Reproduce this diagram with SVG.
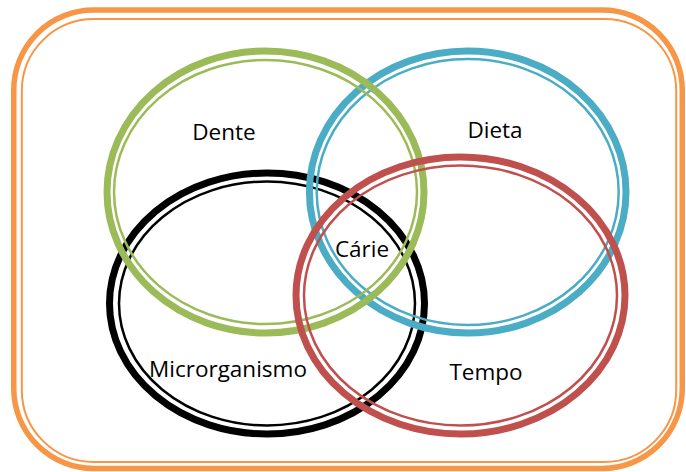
<svg xmlns="http://www.w3.org/2000/svg" width="686" height="472" viewBox="0 0 686 472">
<style>
.thick{fill:none;stroke-width:7}
.thin{fill:none;stroke-width:2.5}
.lbl{font-family:"Open Sans","Liberation Sans",Arial,sans-serif;font-size:22.5px;fill:#000;text-anchor:middle}
</style>
<rect width="686" height="472" fill="#fff"/>
<g id="frame">
<rect x="13.75" y="10" width="668.5" height="458.5" rx="80" ry="80" fill="none" stroke="#F79646" stroke-width="5.5"/>
<rect x="21.8" y="19" width="654.4" height="443" rx="72" ry="72" fill="none" stroke="#F79646" stroke-width="2"/>
</g>
<g id="microrganismo">
<ellipse class="thick" cx="267" cy="303.5" rx="157.5" ry="130.5" stroke="#000"/>
<ellipse class="thin" cx="267" cy="303.5" rx="148" ry="122" stroke="#000"/>
<text class="lbl" x="228" y="377">Microrganismo</text>
</g>
<g id="dieta">
<ellipse class="thick" cx="467.7" cy="192" rx="158.3" ry="141" stroke="#4BACC6"/>
<ellipse class="thin" cx="467.7" cy="192" rx="151" ry="133" stroke="#4BACC6"/>
<text class="lbl" x="495" y="138">Dieta</text>
</g>
<g id="dente">
<ellipse class="thick" cx="265.5" cy="192" rx="158.5" ry="141" stroke="#9BBB59"/>
<ellipse class="thin" cx="265.5" cy="192" rx="151.5" ry="132" stroke="#9BBB59"/>
<text class="lbl" x="224" y="140">Dente</text>
</g>
<g id="tempo">
<ellipse class="thick" cx="460.5" cy="295.5" rx="164.5" ry="138.5" stroke="#C0504D"/>
<ellipse class="thin" cx="460.5" cy="295.5" rx="156.5" ry="130" stroke="#C0504D"/>
<text class="lbl" x="486" y="380">Tempo</text>
</g>
<g id="carie">
<text class="lbl" x="362" y="257">Cárie</text>
</g>
<g id="connectors"/>
</svg>
